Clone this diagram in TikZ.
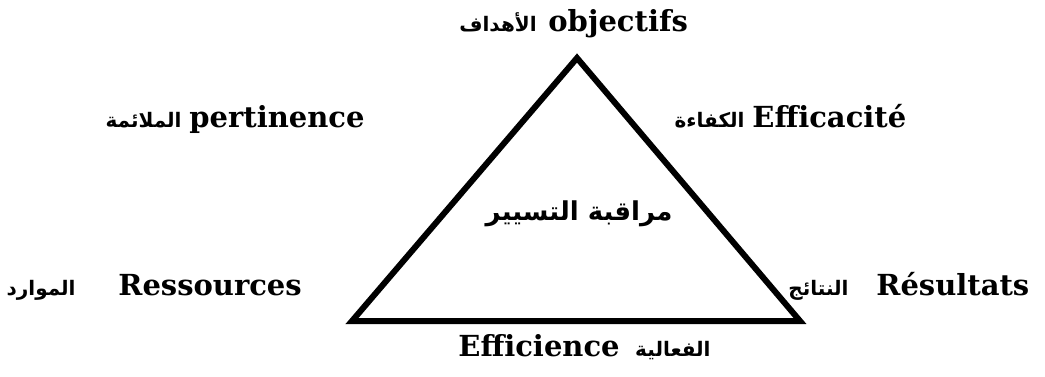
\documentclass[tikz,border=0pt]{standalone}
\usepackage{fontspec}
\setmainfont{DejaVu Serif}
\newfontfamily\arabicfont[Script=Arabic]{DejaVu Sans}
\TeXXeTstate=1
\usepackage{tikz}

\begin{document}
\begin{tikzpicture}[x=0.5pt,y=-0.5pt]
  \tikzset{pillar/.style={inner sep=0pt,anchor=base west,font=\fontsize{14.5}{18}\selectfont\bfseries}}
  \tikzset{arlabel/.style={inner sep=0pt,anchor=base east,font=\fontsize{10}{12}\arabicfont\bfseries}}
  \tikzset{sideline/.style={draw=black,line width=3pt,line join=miter}}
  \useasboundingbox (0,0) rectangle (1045,376);
  % corners of the triangle
  \coordinate (top) at (577,58);
  \coordinate (left) at (352,321);
  \coordinate (right) at (800,321);
  \draw[sideline] (top) -- (right) -- (left) -- cycle;
  % centre
  \node[inner sep=0pt,font=\fontsize{13}{16}\arabicfont\bfseries] (ctrl) at (579,214) {\beginR مراقبة التسيير\endR};
  % top
  \node[pillar] (obj) at (548,31) {objectifs};
  \node[arlabel] (objar) at (537,31) {\beginR الأهداف\endR};
  % sides
  \node[pillar] (pert) at (189,127) {pertinence};
  \node[arlabel] (pertar) at (182,127) {\beginR الملائمة\endR};
  \node[pillar] (effc) at (752,127) {Efficacité};
  \node[arlabel] (effcar) at (745,127) {\beginR الكفاءة\endR};
  % bottom corners
  \node[pillar] (res) at (118,295) {Ressources};
  \node[arlabel] (resar) at (76,295) {\beginR الموارد\endR};
  \node[pillar] (result) at (876,295) {Résultats};
  \node[arlabel] (resultar) at (849,295) {\beginR النتائج\endR};
  % bottom side
  \node[pillar] (effi) at (458,356) {Efficience};
  \node[arlabel] (effiar) at (711,356) {\beginR الفعالية\endR};
\end{tikzpicture}
\end{document}
